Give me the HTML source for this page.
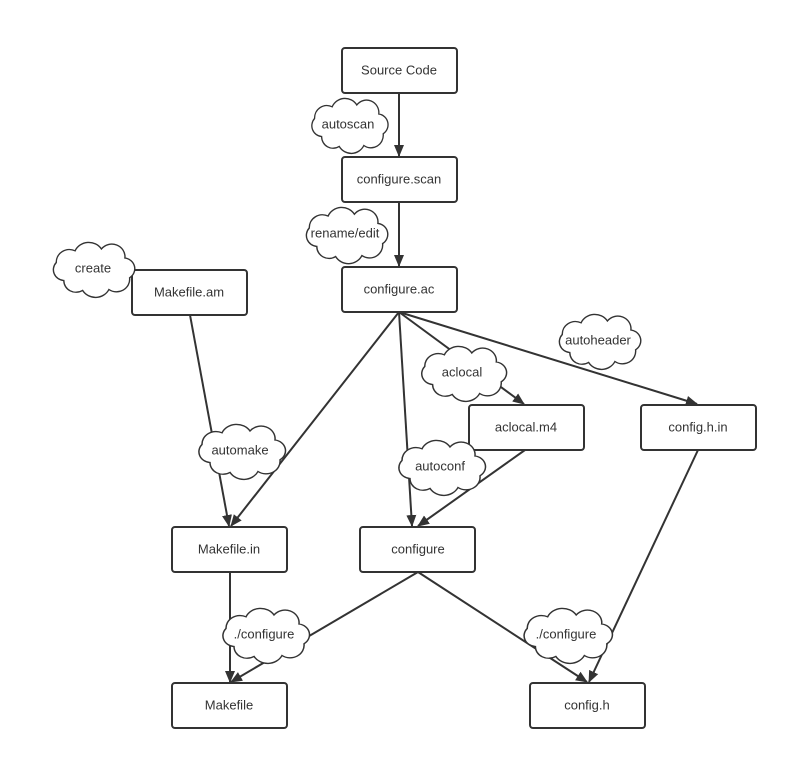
<!DOCTYPE html>
<html><head><meta charset="utf-8"><style>
html,body{margin:0;padding:0;background:#fff}
svg{display:block}
text{font-family:"Liberation Sans",sans-serif;font-size:13px;fill:#333;text-anchor:middle;dominant-baseline:central}
.b{fill:#fff;stroke:#333;stroke-width:2}
.l{stroke:#333;stroke-width:2;fill:none;marker-end:url(#a)}
.c{fill:#fff;stroke:#333;stroke-width:1.5;vector-effect:non-scaling-stroke}
</style></head><body>
<svg width="788" height="760" viewBox="0 0 788 760" xmlns="http://www.w3.org/2000/svg">
<defs>
<marker id="a" markerWidth="12" markerHeight="12" refX="11" refY="6" orient="auto" markerUnits="userSpaceOnUse">
<path d="M0,1 L12,6 L0,11 Z" fill="#333"/></marker>
<path id="cl" d="M20,45 A12,12 0 0 1 12,25 A14,14 0 0 1 32,12 A16,16 0 0 1 60,10 A14,14 0 0 1 85,20 A12,12 0 0 1 90,42 A14,14 0 0 1 68,55 A16,16 0 0 1 40,56 A13,13 0 0 1 20,45 Z"/>
</defs>
<g>
<line class="l" x1="399" y1="93" x2="399" y2="156"/>
<line class="l" x1="399" y1="202" x2="399" y2="266"/>
<line class="l" x1="399" y1="312" x2="231" y2="526"/>
<line class="l" x1="190" y1="315" x2="229" y2="526"/>
<line class="l" x1="399" y1="312" x2="412" y2="526"/>
<line class="l" x1="399" y1="312" x2="524" y2="404"/>
<line class="l" x1="399" y1="312" x2="697" y2="404"/>
<line class="l" x1="525" y1="450" x2="418" y2="526"/>
<line class="l" x1="698" y1="450" x2="589" y2="682"/>
<line class="l" x1="230" y1="572" x2="230" y2="682"/>
<line class="l" x1="418" y1="572" x2="231" y2="682"/>
<line class="l" x1="418" y1="572" x2="587" y2="682"/>
</g>
<g>
<rect class="b" x="342" y="48" width="115" height="45" rx="3"/><text x="399" y="70">Source Code</text>
<rect class="b" x="342" y="157" width="115" height="45" rx="3"/><text x="399" y="179">configure.scan</text>
<rect class="b" x="342" y="267" width="115" height="45" rx="3"/><text x="399" y="289">configure.ac</text>
<rect class="b" x="132" y="270" width="115" height="45" rx="3"/><text x="189" y="292">Makefile.am</text>
<rect class="b" x="469" y="405" width="115" height="45" rx="3"/><text x="526" y="427">aclocal.m4</text>
<rect class="b" x="641" y="405" width="115" height="45" rx="3"/><text x="698" y="427">config.h.in</text>
<rect class="b" x="172" y="527" width="115" height="45" rx="3"/><text x="229" y="549">Makefile.in</text>
<rect class="b" x="360" y="527" width="115" height="45" rx="3"/><text x="418" y="549">configure</text>
<rect class="b" x="172" y="683" width="115" height="45" rx="3"/><text x="229" y="705">Makefile</text>
<rect class="b" x="530" y="683" width="115" height="45" rx="3"/><text x="587" y="705">config.h</text>
</g>
<g>
<use href="#cl" class="c" transform="translate(304,96) scale(0.88,0.9)"/><text x="348" y="124">autoscan</text>
<use href="#cl" class="c" transform="translate(298,205) scale(0.94,0.92)"/><text x="345" y="233">rename/edit</text>
<use href="#cl" class="c" transform="translate(45,240) scale(0.94,0.9)"/><text x="93" y="268">create</text>
<use href="#cl" class="c" transform="translate(551,312) scale(0.94,0.9)"/><text x="598" y="340">autoheader</text>
<use href="#cl" class="c" transform="translate(413,344) scale(0.98,0.9)"/><text x="462" y="372">aclocal</text>
<use href="#cl" class="c" transform="translate(190,422) scale(1,0.9)"/><text x="240" y="450">automake</text>
<use href="#cl" class="c" transform="translate(390,438) scale(1,0.9)"/><text x="440" y="466">autoconf</text>
<use href="#cl" class="c" transform="translate(214,606) scale(1,0.9)"/><text x="264" y="634">./configure</text>
<use href="#cl" class="c" transform="translate(515,606) scale(1.02,0.9)"/><text x="566" y="634">./configure</text>
</g>
</svg>
</body></html>
